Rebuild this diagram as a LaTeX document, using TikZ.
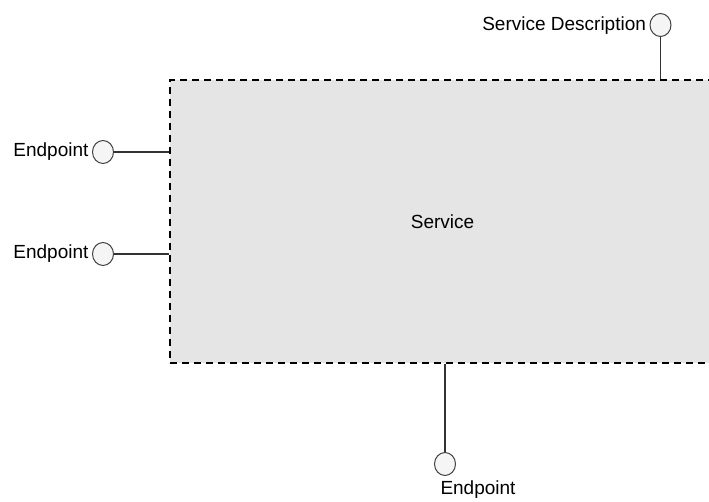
\documentclass[tikz,border=0pt]{standalone}
\usepackage{fontspec}
\setmainfont{Liberation Sans}
\usetikzlibrary{positioning, shapes.geometric}

\begin{document}
\begin{tikzpicture}[x=1pt, y=-1pt, line width=1.1pt,
	font=\fontsize{19}{21}\selectfont]
	
	\useasboundingbox (0,0) rectangle (709,502);
	
	\tikzset{
		port/.style={draw=black!75, fill=black!4, ellipse, inner sep=0pt,
			minimum width=21pt, minimum height=23pt, line width=1pt},
		wire/.style={black!80, line width=1.1pt},
		label/.style={inner sep=2pt}
	}
	
	% Service box (runs past the right edge)
	\node[draw, dashed, dash pattern=on 7pt off 5pt, line width=1.4pt,
		fill=black!10, minimum width=545pt, minimum height=283pt]
		(service) at (442.5, 221.5) {Service};
	
	% Ports
	\node[port] (sd) at (660.5, 25) {};
	\node[port] (ep1) at (103, 152) {};
	\node[port] (ep2) at (103, 254) {};
	\node[port] (ep3) at (445, 464) {};
	
	% Labels in black
	\node[label, left=1pt of sd, yshift=-1pt] {Service Description};
	\node[label, left=1pt of ep1] {Endpoint};
	\node[label, left=1pt of ep2] {Endpoint};
	\node[label, below=2pt of ep3, xshift=33pt] {Endpoint};
	
	% Wires to the box
	\draw[wire] (sd) -- (sd |- service.north);
	\draw[wire] (ep1) -- (ep1 -| service.west);
	\draw[wire] (ep2) -- (ep2 -| service.west);
	\draw[wire] (ep3) -- (ep3 |- service.south);
	
\end{tikzpicture}
\end{document}
